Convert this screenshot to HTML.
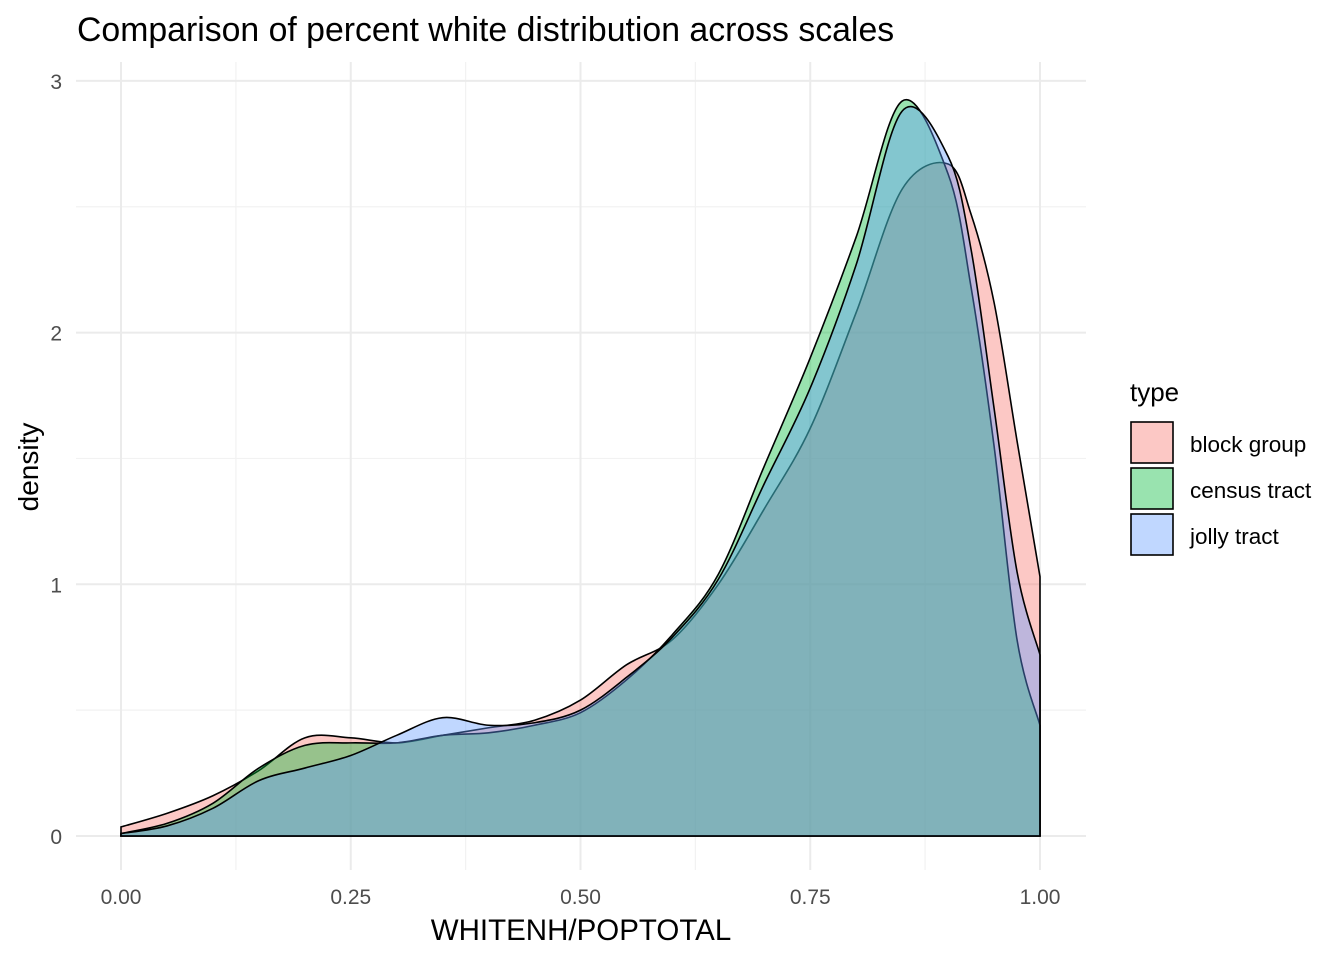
<!DOCTYPE html>
<html><head><meta charset="utf-8">
<style>
body{margin:0;background:#fff;}
svg text{font-family:"Liberation Sans",sans-serif;}
</style></head>
<body>
<svg id="chart" width="1344" height="960" xmlns="http://www.w3.org/2000/svg">
<rect width="1344" height="960" fill="#fff"/>
<g id="grid"></g>
<g id="series"></g>
<g id="axes"></g>
<text x="77" y="41" font-size="33.8" fill="#000">Comparison of percent white distribution across scales</text>
<text x="581" y="940" font-size="29.5" text-anchor="middle" fill="#000">WHITENH/POPTOTAL</text>
<text transform="translate(38,467) rotate(-90)" font-size="28" text-anchor="middle" fill="#000">density</text>
<g>
<text x="1130" y="401" font-size="26" fill="#000">type</text>
<g id="legend-items"></g>
</g>
</svg>
<script>
const xs = [0,.05,.1,.15,.2,.25,.3,.35,.4,.45,.5,.55,.6,.65,.7,.75,.8,.85,.9,.925,.95,.975,1];
const blockGroup = [.036,.09,.16,.26,.39,.39,.37,.40,.43,.46,.54,.68,.78,1.0,1.3,1.62,2.08,2.57,2.67,2.47,2.12,1.57,1.03];
const censusTract = [.01,.05,.13,.27,.36,.37,.37,.40,.41,.44,.49,.62,.80,1.04,1.47,1.9,2.38,2.92,2.63,2.18,1.55,.78,.44];
const jollyTract = [.01,.04,.11,.22,.27,.32,.40,.47,.44,.45,.50,.63,.79,1.02,1.4,1.78,2.27,2.88,2.7,2.33,1.7,1.05,.72];
const seriesNames = ["block group","census tract","jolly tract"];
const seriesColors = ["#F8766D","#00BA38","#619CFF"];
const xTicks = [0,0.25,0.5,0.75,1];
const xTickLabels = ["0.00","0.25","0.50","0.75","1.00"];
const yTicks = [0,1,2,3];

const NS="http://www.w3.org/2000/svg";
const X = v => 121 + v*919;
const Y = v => 836 - v*251.7;
function mk(tag, attrs, parent){const e=document.createElementNS(NS,tag);for(const k in attrs)e.setAttribute(k,attrs[k]);parent.appendChild(e);return e;}

const grid=document.getElementById('grid');
for(let v=0.125; v<1.1; v+=0.25){const l=mk('line',{x1:X(v),x2:X(v),y1:62,y2:870,stroke:'#f2f2f2','stroke-width':1.2},grid);

}
for(let v=0.5; v<3.2; v+=1){const l=mk('line',{x1:76,x2:1086,y1:Y(v),y2:Y(v),stroke:'#f2f2f2','stroke-width':1.2},grid);

}
xTicks.forEach((v,i)=>{const l=mk('line',{x1:X(v),x2:X(v),y1:62,y2:870,stroke:'#ebebeb','stroke-width':2},grid);


const t=mk('text',{x:X(v),y:904,'font-size':21,'text-anchor':'middle',fill:'#4d4d4d'},document.getElementById('axes'));
t.textContent=xTickLabels[i];

});
yTicks.forEach(v=>{const l=mk('line',{x1:76,x2:1086,y1:Y(v),y2:Y(v),stroke:'#ebebeb','stroke-width':2},grid);


const t=mk('text',{x:62,y:Y(v)+8,'font-size':21,'text-anchor':'end',fill:'#4d4d4d'},document.getElementById('axes'));
t.textContent=String(v);

});

function pathFor(vals){
  const p=xs.map((x,i)=>[X(x),Y(vals[i])]);
  let d=`M${X(0)},${Y(0)} L${p[0][0]},${p[0][1]}`;
  for(let i=0;i<p.length-1;i++){
    const p0=p[Math.max(0,i-1)],p1=p[i],p2=p[i+1],p3=p[Math.min(p.length-1,i+2)];
    const c1=[p1[0]+(p2[0]-p0[0])/6,p1[1]+(p2[1]-p0[1])/6];
    const c2=[p2[0]-(p3[0]-p1[0])/6,p2[1]-(p3[1]-p1[1])/6];
    d+=` C${c1[0]},${c1[1]} ${c2[0]},${c2[1]} ${p2[0]},${p2[1]}`;
  }
  d+=` L${X(1)},${Y(0)} Z`;
  return d;
}
const sg=document.getElementById('series');
[blockGroup,censusTract,jollyTract].forEach((vals,i)=>{
  const e=mk('path',{d:pathFor(vals),fill:seriesColors[i],'fill-opacity':0.4,stroke:'#000','stroke-width':1.6},sg);
  
  
});
const lg=document.getElementById('legend-items');
seriesNames.forEach((n,i)=>{
  const y=422+i*46;
  const r=mk('rect',{x:1131,y:y,width:42,height:41,fill:seriesColors[i],'fill-opacity':0.4,stroke:'#000','stroke-width':1.6},lg);
  
  
  const t=mk('text',{x:1190,y:y+30,'font-size':22.5,fill:'#000'},lg);
  t.textContent=n;
  
  
});
</script>
</body></html>
